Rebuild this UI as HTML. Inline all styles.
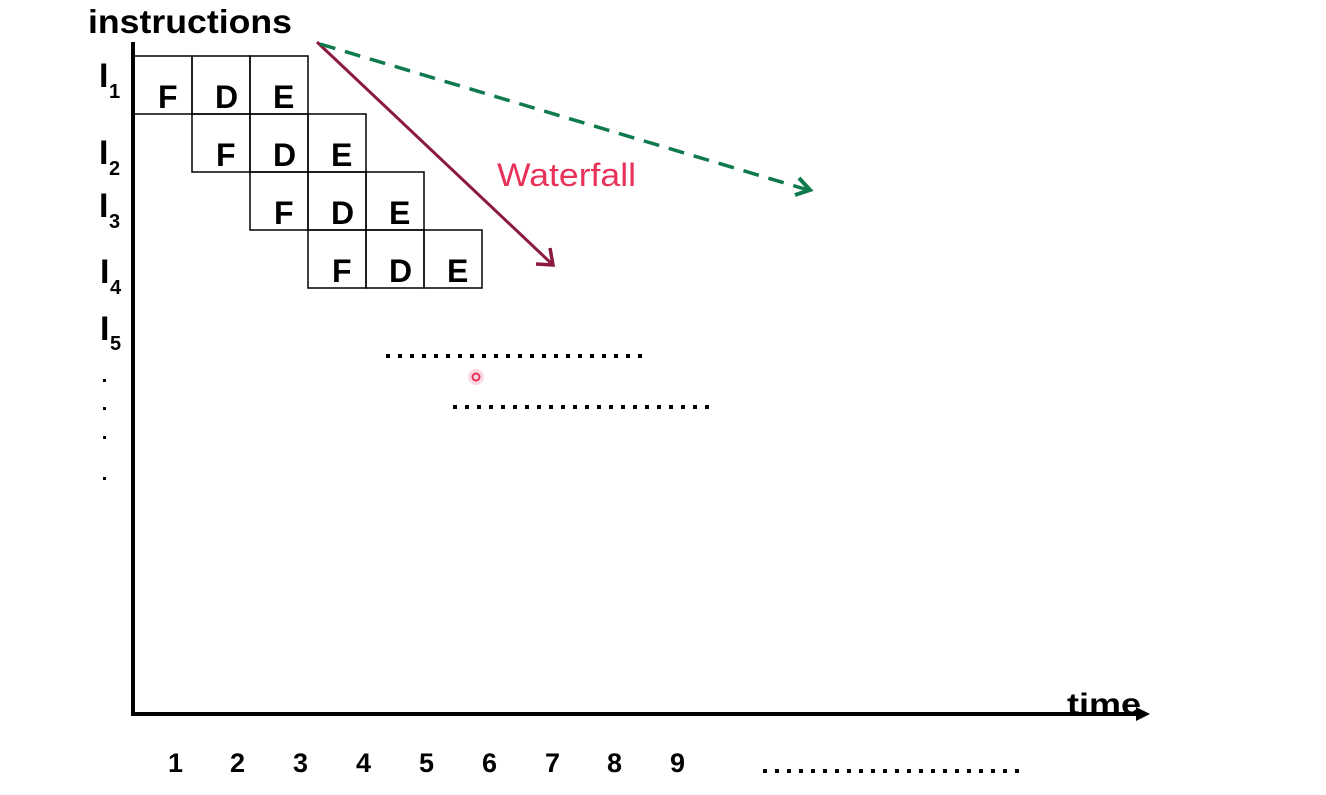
<!DOCTYPE html>
<html><head><meta charset="utf-8"><style>
html,body{margin:0;padding:0;background:#fff;width:1326px;height:795px;overflow:hidden}
text{font-family:"Liberation Sans",Arial,sans-serif}
</style></head><body>
<svg width="1326" height="795" xmlns="http://www.w3.org/2000/svg">
<text x="88" y="33" font-size="33" font-weight="bold" textLength="204" lengthAdjust="spacingAndGlyphs">instructions</text>
<line x1="133" y1="42" x2="133" y2="716" stroke="#000" stroke-width="4"/>
<line x1="131" y1="714" x2="1140" y2="714" stroke="#000" stroke-width="4"/>
<polygon points="1136,707 1150,714 1136,721" fill="#000"/>
<text x="1067" y="714" font-size="30" font-weight="bold" textLength="74" lengthAdjust="spacingAndGlyphs">time</text>
<g fill="none" stroke="#000" stroke-width="1.5">
<rect x="134" y="56" width="58" height="58"/><rect x="192" y="56" width="58" height="58"/><rect x="250" y="56" width="58" height="58"/>
<rect x="192" y="114" width="58" height="58"/><rect x="250" y="114" width="58" height="58"/><rect x="308" y="114" width="58" height="58"/>
<rect x="250" y="172" width="58" height="58"/><rect x="308" y="172" width="58" height="58"/><rect x="366" y="172" width="58" height="58"/>
<rect x="308" y="230" width="58" height="58"/><rect x="366" y="230" width="58" height="58"/><rect x="424" y="230" width="58" height="58"/>
</g>
<g font-size="32" font-weight="bold">
<text x="158" y="108">F</text><text x="215" y="108">D</text><text x="273" y="108">E</text>
<text x="216" y="166">F</text><text x="273" y="166">D</text><text x="331" y="166">E</text>
<text x="274" y="224">F</text><text x="331" y="224">D</text><text x="389" y="224">E</text>
<text x="332" y="282">F</text><text x="389" y="282">D</text><text x="447" y="282">E</text>
</g>
<g font-weight="bold">
<text x="99" y="87" font-size="34">I</text><text x="109" y="98" font-size="20">1</text>
<text x="99" y="164" font-size="34">I</text><text x="109" y="175" font-size="20">2</text>
<text x="99" y="217" font-size="34">I</text><text x="109" y="228" font-size="20">3</text>
<text x="100" y="283" font-size="34">I</text><text x="110" y="294" font-size="20">4</text>
<text x="100" y="340" font-size="34">I</text><text x="110" y="350" font-size="20">5</text>
</g>
<g fill="#000"><rect x="103" y="379" width="3" height="3"/><rect x="103" y="407" width="3" height="3"/><rect x="103" y="436" width="3" height="3"/><rect x="103" y="477" width="3" height="3"/></g>
<line x1="386" y1="356" x2="646" y2="356" stroke="#000" stroke-width="4" stroke-dasharray="4,8"/>
<line x1="453" y1="407" x2="713" y2="407" stroke="#000" stroke-width="4" stroke-dasharray="4,8"/>
<line x1="763" y1="771" x2="1023" y2="771" stroke="#000" stroke-width="4" stroke-dasharray="4,8"/>
<circle cx="476" cy="377" r="8" fill="#f7c0cc" opacity="0.6"/>
<circle cx="476" cy="377" r="3.5" fill="none" stroke="#e8325a" stroke-width="2"/>
<line x1="317" y1="42" x2="553" y2="265" stroke="#8b1a3e" stroke-width="3"/>
<polyline points="536,264 553,265 550,248" fill="none" stroke="#8b1a3e" stroke-width="3.5"/>
<line x1="320" y1="44" x2="808" y2="190" stroke="#0e7a4e" stroke-width="3.5" stroke-dasharray="16,10"/>
<polyline points="795,195 810,190 799,178" fill="none" stroke="#0e7a4e" stroke-width="4"/>
<text x="497" y="186" font-size="32" fill="#e8325a" textLength="139" lengthAdjust="spacingAndGlyphs">Waterfall</text>
<g font-size="27" font-weight="bold">
<text x="168" y="772">1</text><text x="230" y="772">2</text><text x="293" y="772">3</text><text x="356" y="772">4</text><text x="419" y="772">5</text><text x="482" y="772">6</text><text x="545" y="772">7</text><text x="607" y="772">8</text><text x="670" y="772">9</text>
</g>
</svg>
</body></html>
